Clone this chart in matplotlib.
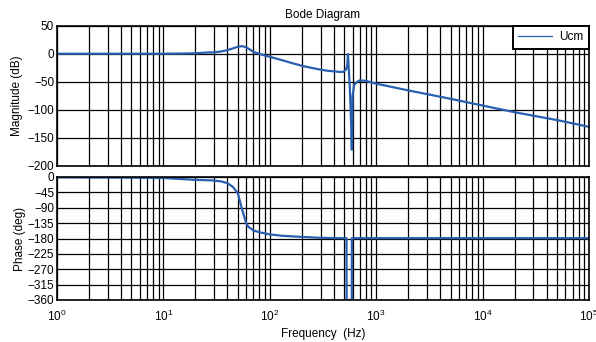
import matplotlib
matplotlib.use("Agg")
import matplotlib.pyplot as plt
import matplotlib.ticker as ticker

plt.rcParams['font.family'] = ['Liberation Sans', 'DejaVu Sans']

# magnitude response
mag_freq = [1, 5, 10, 15, 20, 25, 30, 35, 40, 45, 50, 55, 60, 65, 70, 80, 100,
            130, 160, 200, 250, 300, 350, 400, 450, 490, 520, 535, 543, 550,
            565, 580, 590, 600, 620, 660, 700, 800, 1000, 2000, 5000, 10000,
            20000, 50000, 100000]
mag_db = [0.5, 0.5, 0.5, 0.8, 1.2, 2.5, 3, 4.5, 7, 10, 13, 14, 12, 8, 4, 0, -5,
          -11, -16, -21, -25, -28, -30, -31, -32, -32, -28, -20, 0, -20,
          -60, -120, -171, -75, -55, -50, -47, -48, -53, -65, -80, -92,
          -104, -118, -130]

# phase response
ph_freq = [1, 5, 10, 19, 29, 35, 40, 45, 50, 55, 60, 63, 70, 80, 87, 100, 130,
           192, 300, 450, 526, 527, 590, 591, 1000, 10000, 100000]
ph_deg = [-1, -2, -3, -8, -10, -13, -18, -29, -47, -96, -135, -146, -156, -162,
          -164, -168, -172, -175, -178, -179, -179, -360, -360, -179, -179,
          -179, -179]

series_label = 'Ucm'
line_color = '#2a5fb0'
fs = 8.5

fig = plt.figure(figsize=(5.96, 3.42), dpi=100)
ax1 = fig.add_axes([57 / 596, 1 - 166 / 342, 532 / 596, 140 / 342])
ax2 = fig.add_axes([57 / 596, 1 - 300 / 342, 532 / 596, 123 / 342])

ax1.semilogx(mag_freq, mag_db, color=line_color, lw=1.6, label=series_label)
ax2.semilogx(ph_freq, ph_deg, color=line_color, lw=1.6)

for ax in (ax1, ax2):
    ax.set_xlim(1, 1e5)
    ax.xaxis.set_major_locator(ticker.LogLocator(base=10, numticks=10))
    ax.xaxis.set_minor_locator(ticker.LogLocator(base=10, subs=range(2, 10), numticks=20))
    ax.xaxis.set_minor_formatter(ticker.NullFormatter())
    ax.grid(True, which='both', color='black', lw=0.9)
    ax.tick_params(which='both', direction='in', length=0, labelsize=fs, pad=2)
    for s in ax.spines.values():
        s.set_linewidth(1.2)
    ax.set_axisbelow(True)

ax1.set_ylim(-200, 50)
ax1.set_yticks([50, 0, -50, -100, -150, -200])
ax1.tick_params(labelbottom=False)
ax1.set_ylabel('Magnitude (dB)', fontsize=fs, labelpad=3)
ax1.set_title('Bode Diagram', fontsize=fs, pad=6)

ax2.set_ylim(-360, 0)
ax2.set_yticks(range(0, -361, -45))
ax2.tick_params(axis='x', pad=6)
ax2.set_ylabel('Phase (deg)', fontsize=fs, labelpad=1)
ax2.set_xlabel('Frequency  (Hz)', fontsize=fs, labelpad=3)

leg = ax1.legend(loc='upper right', fontsize=fs, fancybox=False, framealpha=1,
                 borderaxespad=0.0, handlelength=2.9, handletextpad=0.6,
                 borderpad=0.45)
leg.get_frame().set_edgecolor('black')
leg.get_frame().set_linewidth(1.4)
for h in leg.get_lines():
    h.set_linewidth(0.9)

fig.savefig('out.png', dpi=100)
